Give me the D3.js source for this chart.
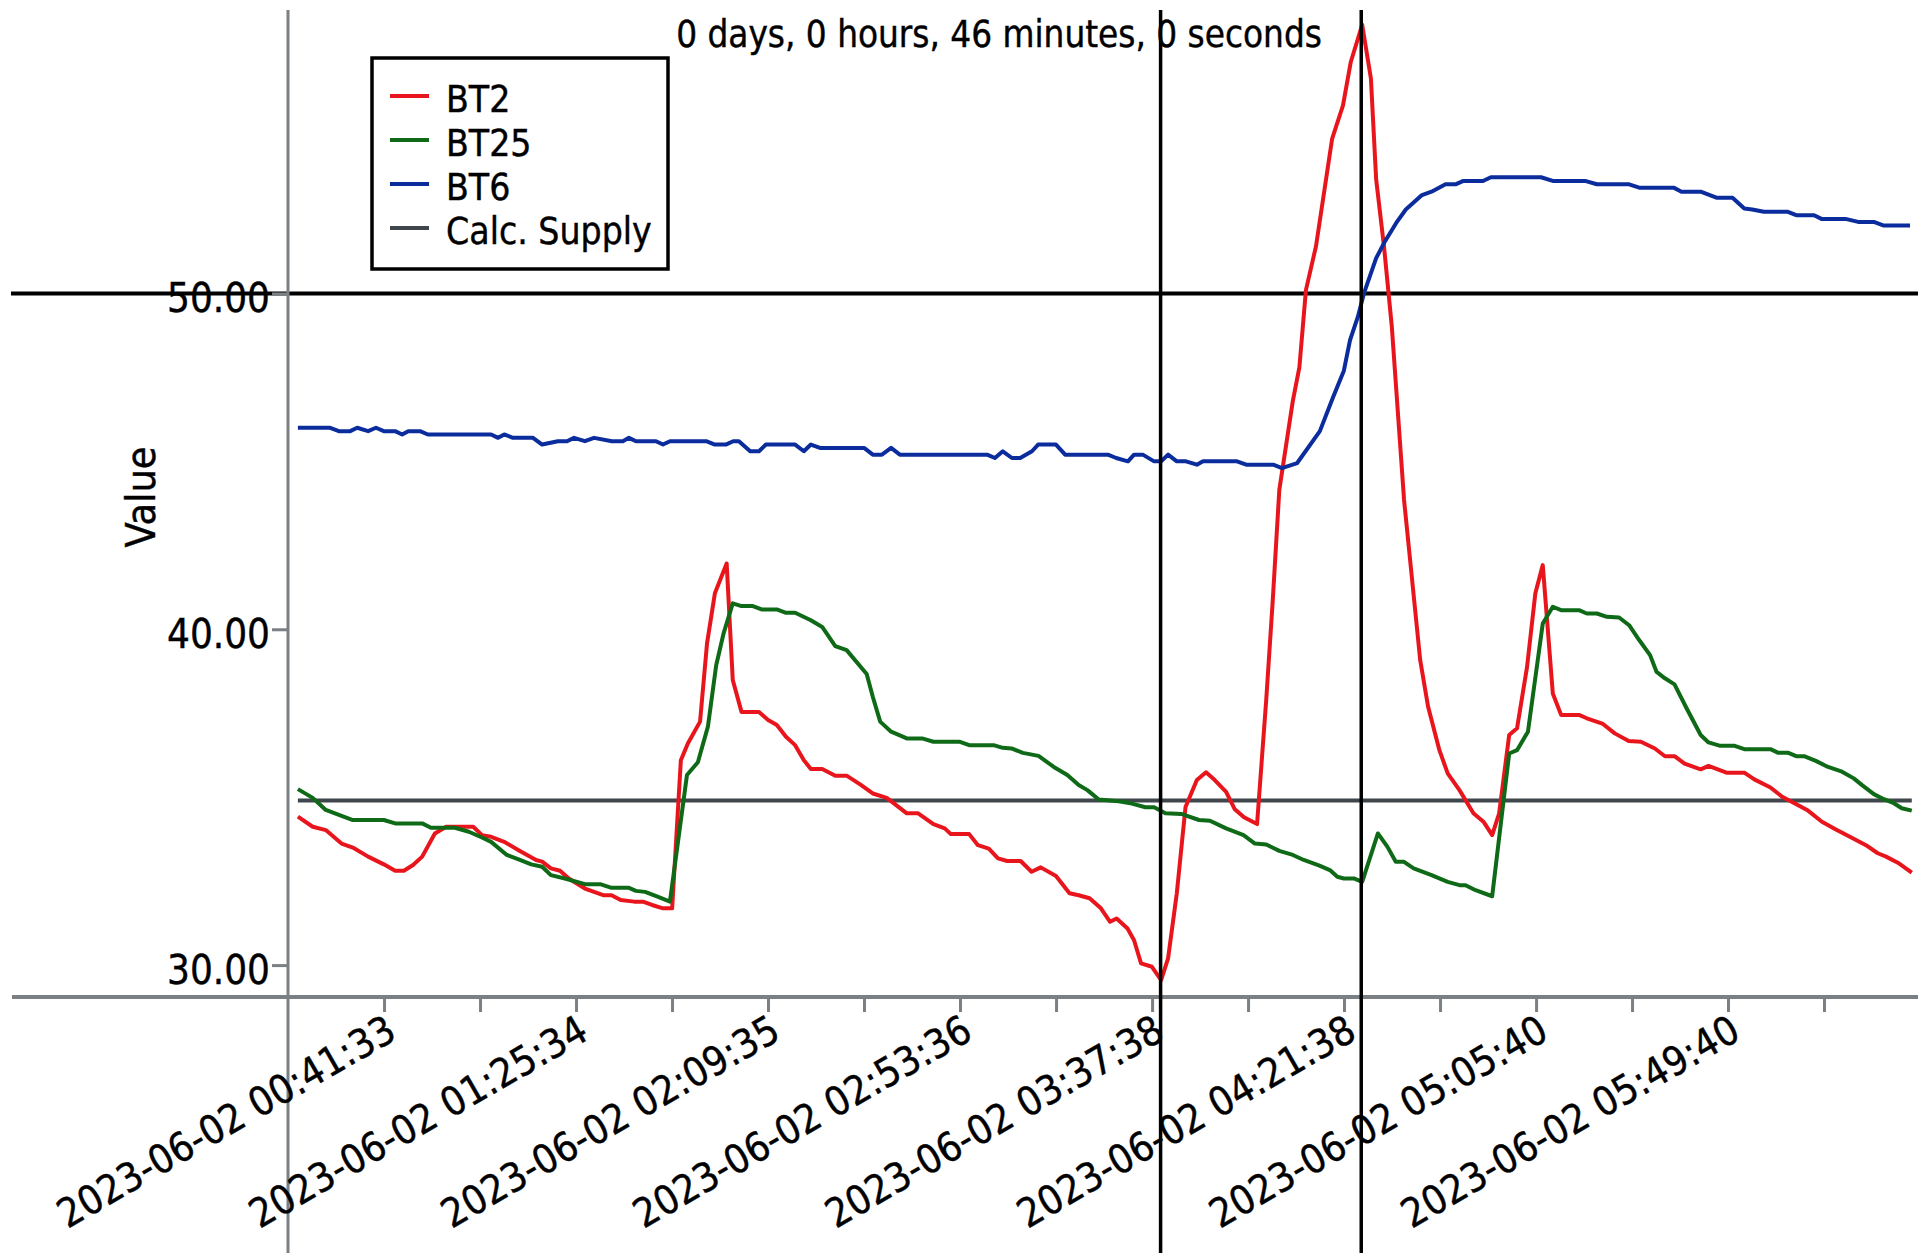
<!DOCTYPE html>
<html><head><meta charset="utf-8">
<script src="https://cdn.jsdelivr.net/npm/d3@7"></script>
<style>
html,body{margin:0;padding:0;background:#fff;}
svg{display:block;}
text{font-family:'DejaVu Sans Condensed','DejaVu Sans',sans-serif;font-stretch:condensed;fill:#000;stroke:#000;stroke-width:0.4px;}
</style></head><body>
<svg id="chart" width="1925" height="1253"></svg>
<script>
// ---------- data ----------
const chartTitle = "0 days, 0 hours, 46 minutes, 0 seconds";
const yAxisTitle = "Value";
const seriesNames = ["BT2", "BT25", "BT6", "Calc. Supply"];
const seriesColors = ["#e8161c", "#0f6a18", "#0b2c9c", "#40474c"];
const xTickLabels = ["2023-06-02 00:41:33","2023-06-02 01:25:34","2023-06-02 02:09:35","2023-06-02 02:53:36",
                     "2023-06-02 03:37:38","2023-06-02 04:21:38","2023-06-02 05:05:40","2023-06-02 05:49:40"];
const xDomain = ["2023-06-02 00:19:32", "2023-06-02 06:33:41"];
const yDomain = [29.05, 58.44];
const yTicks = [30, 40, 50];
const refLineValue = 50;
const cursorTimes = ["2023-06-02 03:39:35", "2023-06-02 04:25:35"];
// series: [minutes since 00:00, value]
const bt2 = [[21.8,34.42],[25.2,34.12],[28.2,34.02],[31.8,33.62],[34.4,33.5],[37.9,33.23],[41.5,33.0],[44.1,32.81],[46.1,32.81],[48.2,32.98],[50.3,33.23],[53.2,33.92],[55.8,34.12],[62.0,34.12],[64.0,33.87],[66.1,33.82],[69.1,33.67],[72.7,33.4],[76.4,33.13],[77.8,33.08],[79.8,32.88],[81.9,32.81],[83.9,32.58],[87.6,32.28],[91.8,32.08],[93.7,32.08],[95.8,31.94],[98.9,31.89],[100.9,31.89],[103.0,31.79],[105.5,31.69],[107.6,31.69],[109.6,36.1],[111.2,36.6],[114.0,37.25],[115.6,39.58],[117.4,41.07],[120.1,41.96],[121.5,38.49],[123.5,37.54],[127.5,37.54],[129.6,37.3],[131.6,37.15],[133.7,36.8],[135.8,36.55],[137.8,36.1],[139.4,35.84],[142.0,35.84],[145.0,35.64],[147.6,35.64],[150.7,35.38],[153.6,35.11],[156.8,34.98],[161.4,34.52],[164.0,34.52],[167.5,34.2],[170.1,34.07],[171.5,33.9],[175.7,33.9],[177.7,33.57],[180.2,33.47],[182.3,33.18],[184.4,33.1],[187.5,33.1],[190.0,32.78],[192.1,32.91],[195.6,32.65],[198.7,32.14],[200.8,32.08],[203.3,31.99],[205.9,31.69],[208.0,31.29],[209.5,31.39],[212.0,31.09],[213.5,30.74],[215.1,30.05],[217.6,29.95],[219.7,29.55],[221.3,30.2],[223.3,32.14],[225.3,34.71],[227.9,35.51],[230.0,35.74],[232.0,35.51],[234.6,35.16],[236.6,34.64],[238.7,34.4],[241.7,34.2],[243.8,37.9],[245.3,40.87],[246.8,44.15],[249.9,46.8],[251.4,47.8],[252.9,50.1],[255.2,51.4],[258.9,54.6],[261.4,55.6],[263.2,56.9],[265.8,58.0],[267.8,56.4],[269.0,53.4],[270.8,51.4],[272.6,49.0],[275.4,43.85],[279.1,39.08],[280.9,37.7],[283.5,36.4],[285.4,35.71],[288.1,35.21],[291.3,34.52],[293.6,34.27],[295.6,33.87],[297.2,34.52],[299.5,36.85],[301.3,37.05],[303.6,38.88],[305.5,41.07],[307.2,41.91],[309.5,38.09],[311.4,37.45],[315.5,37.45],[317.3,37.35],[321.0,37.18],[323.7,36.9],[326.9,36.67],[329.7,36.65],[332.9,36.45],[335.2,36.22],[337.4,36.22],[339.7,36.0],[343.4,35.83],[345.2,35.93],[349.3,35.73],[353.4,35.73],[355.7,35.53],[359.4,35.29],[362.1,35.01],[364.9,34.82],[368.0,34.6],[371.2,34.27],[374.4,34.04],[377.6,33.82],[381.3,33.57],[384.0,33.33],[385.9,33.23],[388.6,33.05],[391.8,32.75]];
const bt25 = [[21.8,35.24],[25.2,34.98],[28.2,34.62],[31.2,34.47],[34.4,34.32],[41.5,34.32],[44.1,34.22],[50.3,34.22],[52.3,34.09],[57.8,34.09],[61.0,33.97],[64.0,33.8],[66.1,33.67],[69.7,33.28],[72.7,33.13],[75.3,33.0],[77.8,32.93],[79.8,32.68],[83.0,32.58],[87.6,32.41],[91.1,32.41],[93.7,32.3],[97.7,32.3],[99.3,32.21],[101.4,32.18],[104.4,32.03],[107.1,31.89],[111.0,35.66],[113.5,36.04],[115.8,37.1],[117.7,38.93],[119.4,39.88],[121.5,40.77],[123.5,40.69],[126.1,40.69],[128.1,40.59],[131.6,40.59],[133.7,40.49],[135.8,40.49],[139.4,40.27],[142.0,40.07],[145.0,39.5],[147.6,39.38],[152.2,38.67],[153.6,37.99],[155.3,37.25],[157.8,36.95],[161.4,36.75],[164.9,36.75],[167.5,36.65],[173.6,36.65],[175.7,36.55],[181.3,36.55],[183.4,36.47],[185.4,36.45],[188.0,36.32],[191.6,36.23],[195.1,35.9],[198.2,35.66],[200.8,35.36],[202.8,35.21],[205.4,34.93],[210.0,34.88],[213.0,34.81],[216.1,34.7],[218.1,34.7],[220.7,34.52],[224.3,34.5],[228.4,34.32],[230.9,34.3],[234.6,34.07],[238.6,33.87],[241.2,33.62],[243.8,33.59],[246.8,33.4],[249.9,33.28],[252.4,33.13],[256.0,32.96],[258.4,32.83],[260.1,32.63],[261.6,32.58],[263.9,32.58],[265.8,32.48],[269.4,33.92],[271.6,33.52],[273.5,33.08],[275.3,33.08],[277.6,32.88],[281.7,32.68],[285.4,32.48],[288.1,32.38],[289.5,32.38],[291.8,32.23],[295.6,32.05],[299.5,36.3],[301.3,36.4],[303.8,36.95],[307.2,40.17],[309.5,40.67],[311.4,40.57],[315.5,40.57],[317.3,40.47],[319.6,40.47],[321.9,40.37],[324.7,40.35],[327.0,40.12],[329.3,39.68],[331.8,39.23],[333.3,38.73],[335.2,38.54],[337.4,38.36],[340.2,37.64],[343.4,36.85],[345.2,36.63],[347.9,36.53],[351.2,36.53],[353.4,36.43],[359.4,36.43],[361.2,36.32],[363.5,36.32],[365.3,36.22],[367.1,36.22],[369.8,36.08],[372.6,35.9],[375.8,35.76],[378.5,35.56],[380.4,35.36],[383.1,35.09],[385.4,34.94],[387.7,34.82],[389.5,34.67],[391.8,34.6]];
const bt6 = [[21.8,46.0],[29.2,46.0],[31.2,45.9],[33.8,45.9],[35.4,46.0],[37.9,45.9],[39.7,46.0],[41.5,45.9],[44.1,45.9],[45.7,45.8],[47.1,45.9],[49.8,45.9],[51.6,45.8],[66.1,45.8],[67.7,45.7],[69.1,45.8],[71.1,45.7],[75.7,45.7],[77.8,45.5],[81.4,45.6],[83.5,45.6],[85.1,45.7],[87.6,45.6],[89.7,45.7],[93.8,45.6],[96.3,45.6],[97.7,45.7],[99.3,45.6],[103.9,45.6],[105.5,45.5],[107.1,45.6],[115.4,45.6],[117.4,45.5],[119.9,45.5],[121.6,45.6],[122.9,45.6],[125.5,45.3],[127.5,45.3],[129.1,45.5],[135.8,45.5],[137.8,45.3],[139.4,45.5],[141.5,45.4],[151.6,45.4],[153.6,45.2],[155.7,45.2],[157.8,45.4],[159.8,45.2],[179.8,45.2],[181.6,45.1],[183.4,45.3],[185.5,45.1],[187.4,45.1],[190.1,45.3],[191.5,45.5],[195.6,45.5],[197.7,45.2],[207.5,45.2],[209.4,45.1],[212.1,45.0],[213.5,45.2],[215.5,45.2],[218.1,45.0],[219.7,45.0],[221.3,45.2],[223.3,45.0],[225.4,45.0],[227.9,44.9],[229.3,45.0],[237.1,45.0],[239.2,44.9],[245.4,44.9],[247.4,44.8],[250.9,44.95],[256.1,45.9],[259.1,46.9],[261.6,47.7],[263.0,48.6],[264.8,49.3],[266.2,50.0],[269.0,51.05],[270.8,51.5],[273.6,52.1],[275.8,52.5],[279.5,52.93],[281.7,53.03],[284.9,53.25],[287.2,53.25],[289.0,53.35],[293.5,53.35],[295.3,53.46],[306.8,53.46],[309.5,53.35],[316.9,53.35],[319.6,53.25],[327.0,53.25],[329.3,53.15],[337.2,53.15],[339.0,53.03],[343.4,53.03],[347.0,52.85],[350.7,52.85],[353.4,52.53],[355.2,52.5],[357.9,52.43],[363.4,52.43],[365.3,52.33],[369.4,52.33],[371.1,52.22],[376.6,52.22],[379.5,52.13],[383.1,52.13],[385.4,52.02],[391.4,52.02]];
const calcSupply = [[21.8,34.9],[391.8,34.9]];

// ---------- chart ----------
const svg = d3.select("#chart");
const FONT = "'DejaVu Sans Condensed','DejaVu Sans',sans-serif";
const parse = d3.timeParse("%Y-%m-%d %H:%M:%S");
const day0 = parse("2023-06-02 00:00:00");
const atMin = m => new Date(+day0 + m * 60000);

const x = d3.scaleTime().domain(xDomain.map(parse)).range([288, 1920]);
const y = d3.scaleLinear().domain(yDomain).range([997, 10]);
const AXIS = "#7b8085";

const line = d3.line().x(d => x(atMin(d[0]))).y(d => y(d[1]));

// reference line at 50
svg.append("line").attr("x1", 11).attr("x2", 1918)
  .attr("y1", y(refLineValue)).attr("y2", y(refLineValue))
  .attr("stroke", "#000").attr("stroke-width", 4);

const allSeries = [bt2, bt25, bt6, calcSupply];
[3, 0, 1, 2].forEach(i => {
  svg.append("path").datum(allSeries[i]).attr("d", line)
    .attr("fill", "none").attr("stroke", seriesColors[i])
    .attr("stroke-width", 4).attr("stroke-linejoin", "round");
});

// axes lines
svg.append("line").attr("x1", 12).attr("x2", 1918).attr("y1", y(yDomain[0])).attr("y2", y(yDomain[0]))
  .attr("stroke", AXIS).attr("stroke-width", 4);
svg.append("line").attr("x1", 288).attr("x2", 288).attr("y1", y(yDomain[1])).attr("y2", 1253)
  .attr("stroke", AXIS).attr("stroke-width", 3);

// y axis ticks
const yAxis = svg.append("g").attr("transform", "translate(288,0)")
  .call(d3.axisLeft(y).tickValues(yTicks).tickFormat(d3.format(".2f")).tickSize(16).tickPadding(2));
yAxis.select(".domain").remove();
yAxis.selectAll(".tick line").attr("stroke", AXIS).attr("stroke-width", 3);
yAxis.selectAll(".tick text").attr("font-size", 40).attr("dy", "0.45em").attr("fill", "#000")
  .style("font-family", FONT).style("stroke", "#000").style("stroke-width", "0.4px");

// x axis ticks
const labelDates = xTickLabels.map(parse);
const minorDates = d3.pairs(labelDates).map(([a, b]) => new Date((+a + +b) / 2));
const stepMs = (+labelDates[1] - +labelDates[0]) / 2;
minorDates.push(new Date(+labelDates[labelDates.length - 1] + stepMs));
const labelKeys = new Set(labelDates.map(d => +d));
const fmt = d3.timeFormat("%Y-%m-%d %H:%M:%S");
const xAxis = svg.append("g").attr("transform", `translate(0,${y(yDomain[0])})`)
  .call(d3.axisBottom(x).tickValues(labelDates.concat(minorDates).sort((a, b) => a - b))
    .tickSize(15).tickFormat(d => labelKeys.has(+d) ? fmt(d) : ""));
xAxis.select(".domain").remove();
xAxis.selectAll(".tick line").attr("stroke", AXIS).attr("stroke-width", 3);
xAxis.selectAll(".tick text").attr("font-size", 40).attr("fill", "#000")
  .attr("text-anchor", "end").attr("x", 0).attr("y", 0).attr("dy", 0)
  .attr("transform", "translate(14,41) rotate(-30)")
  .style("font-family", FONT).style("stroke", "#000").style("stroke-width", "0.4px");

// cursors
cursorTimes.map(parse).forEach(t => {
  svg.append("line").attr("x1", x(t)).attr("x2", x(t)).attr("y1", y(yDomain[1])).attr("y2", 1253)
    .attr("stroke", "#000").attr("stroke-width", 3.5);
});

// legend
const lg = svg.append("g");
lg.append("rect").attr("x", 372).attr("y", 58).attr("width", 296).attr("height", 211)
  .attr("fill", "#fff").attr("stroke", "#000").attr("stroke-width", 3.5);
seriesNames.forEach((n, i) => {
  const yy = 96 + i * 44;
  lg.append("line").attr("x1", 390).attr("x2", 429).attr("y1", yy).attr("y2", yy)
    .attr("stroke", seriesColors[i]).attr("stroke-width", 4);
  lg.append("text").attr("x", 446).attr("y", yy + 16).attr("font-size", 37).text(n);
});

// title
svg.append("text").attr("x", 999).attr("y", 47).attr("text-anchor", "middle")
  .attr("font-size", 36.5).text(chartTitle);

// y axis title
svg.append("text").attr("transform", "translate(155,497) rotate(-90)")
  .attr("text-anchor", "middle").attr("font-size", 41).text(yAxisTitle);
</script></body></html>
